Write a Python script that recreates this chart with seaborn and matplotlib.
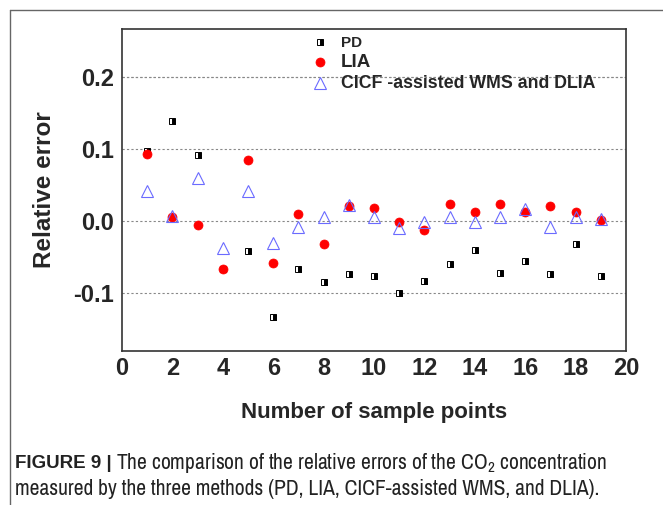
import matplotlib
matplotlib.use("Agg")
import matplotlib.pyplot as plt
from matplotlib.lines import Line2D
from matplotlib.ticker import MultipleLocator
import seaborn as sns
import pandas as pd

# ---- data ----
sample_points = list(range(1, 20))
pd_err = [0.097, 0.139, 0.092, -0.066, -0.042, -0.134, -0.066, -0.085, -0.074, -0.076,
          -0.100, -0.083, -0.060, -0.040, -0.072, -0.055, -0.074, -0.032, -0.077]
lia_err = [0.093, 0.005, -0.005, -0.066, 0.085, -0.058, 0.010, -0.032, 0.021, 0.018,
           -0.002, -0.013, 0.024, 0.013, 0.024, 0.012, 0.021, 0.013, 0.002]
cicf_err = [0.042, 0.007, 0.060, -0.038, 0.042, -0.031, -0.008, 0.005, 0.022, 0.005,
            -0.010, -0.002, 0.005, -0.002, 0.005, 0.016, -0.008, 0.005, 0.003]
series_labels = ["PD", "LIA", "CICF -assisted WMS and DLIA"]
x_ticks = [0, 2, 4, 6, 8, 10, 12, 14, 16, 18, 20]
y_ticks = [-0.1, 0.0, 0.1, 0.2]
x_label = "Number of sample points"
y_label = "Relative error"

sns.set_style("white")
plt.rcParams["font.family"] = ["Liberation Sans", "DejaVu Sans"]
plt.rcParams["mathtext.fontset"] = "custom"
plt.rcParams["mathtext.rm"] = "Archivo Narrow"

W, H = 663, 505
fig = plt.figure(figsize=(W / 100, H / 100), dpi=100)
ax = fig.add_axes([122 / W, 1 - 351 / H, (626 - 122) / W, (351 - 29) / H])

df = pd.DataFrame({"x": sample_points, "PD": pd_err, "LIA": lia_err, "CICF": cicf_err})

sns.lineplot(data=df, x="x", y="PD", ax=ax, linestyle="", marker="s", markersize=5,
             fillstyle="right", markerfacecolor="black", markerfacecoloralt="white",
             markeredgecolor="black", markeredgewidth=0.7, errorbar=None, label=series_labels[0])
sns.lineplot(data=df, x="x", y="LIA", ax=ax, linestyle="", marker="o", markersize=6.5,
             markerfacecolor="#ff0000", markeredgecolor="#ff0000", markeredgewidth=0.5,
             errorbar=None, label=series_labels[1])
sns.lineplot(data=df, x="x", y="CICF", ax=ax, linestyle="", marker="^", markersize=8,
             markerfacecolor="none", markeredgecolor="#6b6bff", markeredgewidth=0.8,
             errorbar=None, label=series_labels[2])

ax.set_xlim(0, 20)
ax.set_ylim(-0.1806, 0.2667)
ax.set_xticks(x_ticks)
ax.set_yticks(y_ticks)
ax.xaxis.set_minor_locator(MultipleLocator(1))
ax.yaxis.set_minor_locator(MultipleLocator(0.05))
ax.set_xticklabels([str(t) for t in x_ticks], fontsize=17, fontweight="bold")
ax.set_yticklabels([f"{t:.1f}" for t in y_ticks], fontsize=17, fontweight="bold")
ax.tick_params(axis="both", which="both", direction="in", top=False, right=False,
               color="black", width=1)
ax.tick_params(axis="both", which="major", length=5)
ax.tick_params(axis="both", which="minor", length=3)
ax.tick_params(axis="y", which="major", pad=6)
ax.tick_params(axis="x", which="major", pad=4)

for yv in y_ticks + [0.2]:
    ax.axhline(yv, color="#888888", linestyle=(0, (2, 2)), linewidth=0.8, zorder=0)

for s in ax.spines.values():
    s.set_color("#333333")
    s.set_linewidth(1.2)

ax.set_xlabel(x_label, fontsize=16, fontweight="bold", labelpad=16)
ax.set_ylabel(y_label, fontsize=17.5, fontweight="bold", labelpad=12)

leg = ax.legend(loc="upper left", bbox_to_anchor=(305 / W, 1 - 29 / H),
                bbox_transform=fig.transFigure, frameon=False, handlelength=1.2,
                handletextpad=0.9, borderpad=0, labelspacing=0.3)
for txt, size in zip(leg.get_texts(), [11, 13.5, 12.8]):
    txt.set_fontweight("bold")
    txt.set_fontsize(size)

# outer frame
fig.add_artist(Line2D([10 / W, 10 / W], [1 - 10 / H, 0], transform=fig.transFigure,
                      color="#666666", lw=1))
fig.add_artist(Line2D([10 / W, 1], [1 - 10 / H, 1 - 10 / H], transform=fig.transFigure,
                      color="#666666", lw=1))

cap_bold = "FIGURE 9 |"
cap1 = "The comparison of the relative errors of the CO$_2$ concentration"
cap2 = "measured by the three methods (PD, LIA, CICF-assisted WMS, and DLIA)."
cap_fs = 15.5
tb = fig.text(15 / W, 1 - 463 / H, cap_bold, fontsize=13.5, family="Liberation Sans",
              fontweight="bold", va="center", ha="left", color="#222222")
fig.canvas.draw()
bb = tb.get_window_extent(fig.canvas.get_renderer())
fig.text((bb.x1 + 4) / W, 1 - 463 / H, cap1, fontsize=cap_fs, family="Archivo Narrow",
         va="center", ha="left", color="#222222")
fig.text(15 / W, 1 - 489 / H, cap2, fontsize=cap_fs, family="Archivo Narrow",
         va="center", ha="left", color="#222222")

fig.savefig("out.png", dpi=100)
